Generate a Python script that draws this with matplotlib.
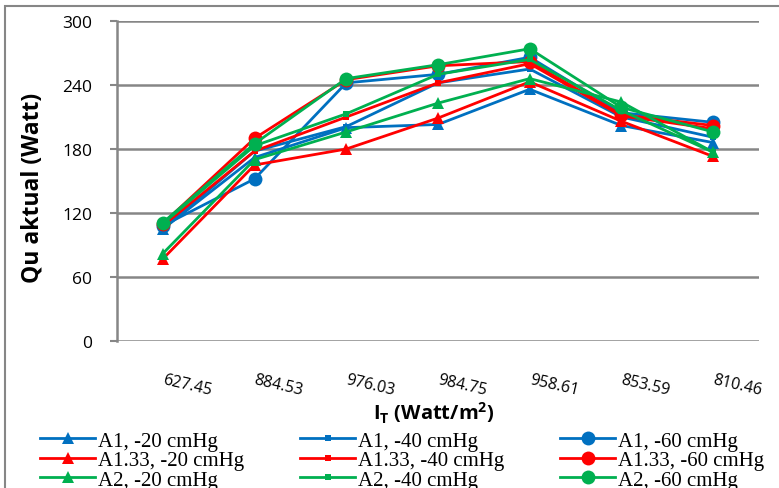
import matplotlib.pyplot as plt
from matplotlib.patches import Rectangle
from matplotlib.transforms import blended_transform_factory

plt.rcParams["mathtext.fontset"] = "custom"
plt.rcParams["mathtext.bf"] = "Open Sans:bold"
plt.rcParams["mathtext.rm"] = "Open Sans"

# irradiance categories (x axis)
irradiance = ["627.45", "884.53", "976.03", "984.75", "958.61", "853.59", "810.46"]

# Qu aktual (Watt) per collector area and vacuum pressure
a1_20 = [105, 172, 200, 203, 236, 202, 186]
a1_40 = [105, 178, 201, 242, 255, 210, 191]
a1_60 = [108, 152, 242, 250, 266, 214, 205]
a133_20 = [77, 165, 180, 209, 243, 206, 173]
a133_40 = [108, 178, 210, 242, 260, 211, 199]
a133_60 = [110, 190, 245, 258, 262, 212, 202]
a2_20 = [82, 170, 196, 223, 246, 224, 177]
a2_40 = [110, 183, 213, 250, 264, 216, 177]
a2_60 = [111, 185, 246, 259, 274, 219, 196]

blue = "#0070C0"
red = "#FF0000"
green = "#00B050"

fig = plt.figure(figsize=(7.79, 4.89), dpi=100)
W, H = 779, 489
ax = fig.add_axes([117 / W, 1 - 342 / H, (759 - 117) / W, 320 / H])

x = list(range(len(irradiance)))

series = [
    (a1_20, blue, "^", "A1, -20 cmHg"),
    (a1_40, blue, "s", "A1, -40 cmHg"),
    (a1_60, blue, "o", "A1, -60 cmHg"),
    (a133_20, red, "^", "A1.33, -20 cmHg"),
    (a133_40, red, "s", "A1.33, -40 cmHg"),
    (a133_60, red, "o", "A1.33, -60 cmHg"),
    (a2_20, green, "^", "A2, -20 cmHg"),
    (a2_40, green, "s", "A2, -40 cmHg"),
    (a2_60, green, "o", "A2, -60 cmHg"),
]
msizes = {"^": 8, "s": 5, "o": 10}

handles = []
for vals, col, mk, lab in series:
    h, = ax.plot(x, vals, color=col, marker=mk, markersize=msizes[mk],
                 linewidth=2, markeredgewidth=0, label=lab)
    handles.append(h)

ax.set_xlim(-0.5, 6.5)
ax.set_ylim(0, 300)
ax.set_yticks([0, 60, 120, 180, 240, 300])
ax.set_xticks(x)
ax.set_xticklabels([])

ax.grid(axis="y", color="#868686", linewidth=1.8)
ax.set_axisbelow(True)
for s in ["top", "right", "bottom"]:
    ax.spines[s].set_visible(False)
ax.spines["left"].set_color("#868686")
ax.spines["left"].set_linewidth(1.8)
ax.tick_params(axis="y", colors="#868686", length=5, width=1.5,
               labelcolor="black", labelsize=12.5, pad=13)
ax.tick_params(axis="x", length=0)
for t in ax.get_yticklabels():
    t.set_fontfamily("Open Sans")

# slanted category labels, starting at each category position
trans = blended_transform_factory(ax.transData, ax.transAxes)
for i, lab in enumerate(irradiance):
    ax.text(i, -0.118, lab, rotation=-13, rotation_mode="anchor",
            ha="left", va="center", fontsize=11.5, fontfamily="Open Sans",
            transform=trans, clip_on=False)

fig.text(33 / W, 1 - 188 / H, "Qu aktual (Watt)", rotation=90, ha="center",
         va="center", fontsize=16.5, fontweight="bold", fontfamily="Open Sans")
fig.text(434 / W, 1 - 413 / H, r"I$_\mathbf{T}$ (Watt/m$^\mathbf{2}$)",
         ha="center", va="center", fontsize=14.5, fontweight="bold",
         fontfamily="Open Sans")

# one legend per column so each column starts where the original does
col_x = [40, 300, 560]
for c in range(3):
    fig.legend(handles=[handles[c], handles[c + 3], handles[c + 6]],
               loc="upper left", bbox_to_anchor=(col_x[c] / W, 1 - 432 / H),
               frameon=False, prop={"family": "Liberation Serif", "size": 15},
               handlelength=2.65, handletextpad=0.15, labelspacing=0.0,
               borderpad=0, borderaxespad=0)

# outer chart border (cut off at right and bottom as in the original)
fig.patches.append(Rectangle((5 / W, -0.1), 1.1, 1 - 7 / H + 0.1,
                             transform=fig.transFigure, fill=False,
                             edgecolor="#868686", linewidth=1.5))

fig.savefig("out.png", dpi=100)
